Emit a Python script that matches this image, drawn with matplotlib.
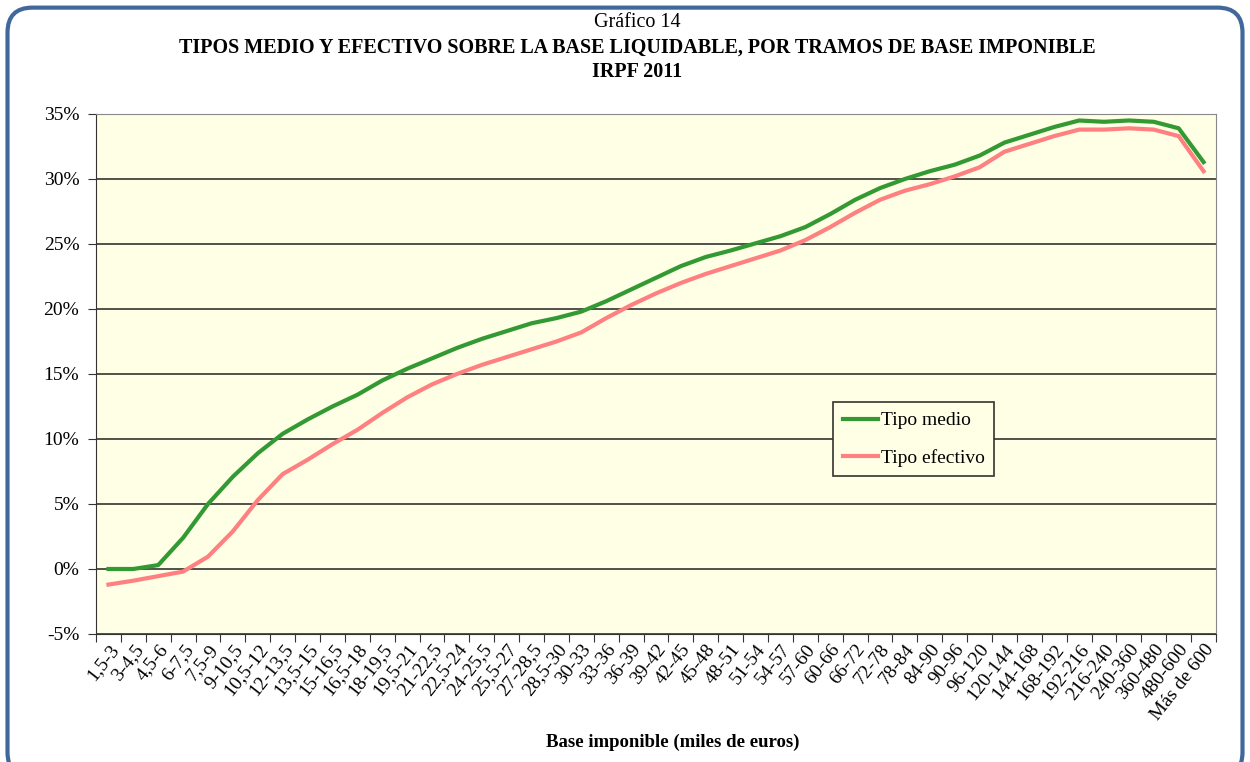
import matplotlib.pyplot as plt
from matplotlib.patches import FancyBboxPatch
from matplotlib.ticker import PercentFormatter

plt.rcParams['font.family'] = ['Liberation Serif', 'DejaVu Serif']

tramos = ['1,5-3', '3-4,5', '4,5-6', '6-7,5', '7,5-9', '9-10,5', '10,5-12', '12-13,5',
          '13,5-15', '15-16,5', '16,5-18', '18-19,5', '19,5-21', '21-22,5', '22,5-24',
          '24-25,5', '25,5-27', '27-28,5', '28,5-30', '30-33', '33-36', '36-39', '39-42',
          '42-45', '45-48', '48-51', '51-54', '54-57', '57-60', '60-66', '66-72', '72-78',
          '78-84', '84-90', '90-96', '96-120', '120-144', '144-168', '168-192', '192-216',
          '216-240', '240-360', '360-480', '480-600', 'Más de 600']

tipo_medio = [0.0, 0.0, 0.3, 2.4, 5.0, 7.1, 8.9, 10.4, 11.5, 12.5, 13.4, 14.5, 15.4, 16.2,
              17.0, 17.7, 18.3, 18.9, 19.3, 19.8, 20.6, 21.5, 22.4, 23.3, 24.0, 24.5, 25.05,
              25.6, 26.3, 27.3, 28.4, 29.3, 30.0, 30.6, 31.1, 31.8, 32.8, 33.4, 34.0, 34.5,
              34.4, 34.5, 34.4, 33.9, 31.3]

tipo_efectivo = [-1.2, -0.9, -0.55, -0.2, 0.95, 2.9, 5.3, 7.3, 8.4, 9.6, 10.7, 12.0, 13.2,
                 14.2, 15.0, 15.7, 16.3, 16.9, 17.5, 18.2, 19.3, 20.3, 21.2, 22.0, 22.7,
                 23.3, 23.9, 24.5, 25.3, 26.3, 27.4, 28.4, 29.1, 29.6, 30.2, 30.9, 32.1,
                 32.7, 33.3, 33.8, 33.8, 33.9, 33.8, 33.3, 30.6]

fig = plt.figure(figsize=(12.5, 7.62), dpi=100)

# marco azul redondeado
marco = FancyBboxPatch((0.006, -0.02), 0.988, 1.01, boxstyle='round,pad=0,rounding_size=0.02',
                       transform=fig.transFigure, facecolor='white', edgecolor='#41679b',
                       linewidth=3, zorder=-10, mutation_aspect=1250 / 762)
fig.patches.append(marco)

ax = fig.add_axes([0.0768, 0.168, 0.8960, 0.6824])
ax.set_facecolor('#ffffe5')

x = list(range(len(tramos)))
ax.plot(x, tipo_medio, color='#339933', linewidth=3, label='Tipo medio', zorder=3)
ax.plot(x, tipo_efectivo, color='#ff8080', linewidth=3, label='Tipo efectivo', zorder=3)

ax.set_xlim(-0.5, len(tramos) - 0.5)
ax.set_ylim(-5, 35)
ax.set_yticks(range(-5, 36, 5))
ax.set_yticklabels([f'{v}%' for v in range(-5, 36, 5)])
ax.grid(axis='y', color='#333333', linewidth=1.2)
ax.set_axisbelow(True)

ax.set_xticks([i - 0.5 for i in range(len(tramos) + 1)])
ax.set_xticklabels([])
ax.set_xticks(x, minor=True)
ax.set_xticklabels(tramos, minor=True, rotation=52, ha='right', va='top',
                   rotation_mode='anchor', fontsize=14)
ax.tick_params(axis='x', which='minor', length=0, pad=5)
ax.tick_params(axis='x', which='major', length=6, direction='out', color='#333333')
ax.tick_params(axis='y', length=6, direction='out', color='#333333', labelsize=14, pad=6)

for s in ['left', 'bottom']:
    ax.spines[s].set_color('#333333')
for s in ['top', 'right']:
    ax.spines[s].set_color('#888888')

leg = ax.legend(loc='upper left', bbox_to_anchor=(0.658, 0.446), fontsize=14, frameon=True,
                fancybox=False, edgecolor='#333333', facecolor='#ffffe5', framealpha=1,
                handlelength=1.8, labelspacing=1.0, borderpad=0.5, handletextpad=0.15,
                borderaxespad=0)
leg.get_frame().set_linewidth(1.2)

fig.text(0.538, 0.026, 'Base imponible (miles de euros)', ha='center', va='center',
         fontsize=13.5, fontweight='bold')

fig.text(0.51, 0.971, 'Gráfico 14', ha='center', va='center', fontsize=14.5)
fig.text(0.51, 0.938, 'TIPOS MEDIO Y EFECTIVO SOBRE LA BASE LIQUIDABLE, POR TRAMOS DE BASE IMPONIBLE',
         ha='center', va='center', fontsize=14.5, fontweight='bold')
fig.text(0.51, 0.905, 'IRPF 2011', ha='center', va='center', fontsize=14.5, fontweight='bold')

fig.savefig('out.png', dpi=100)
